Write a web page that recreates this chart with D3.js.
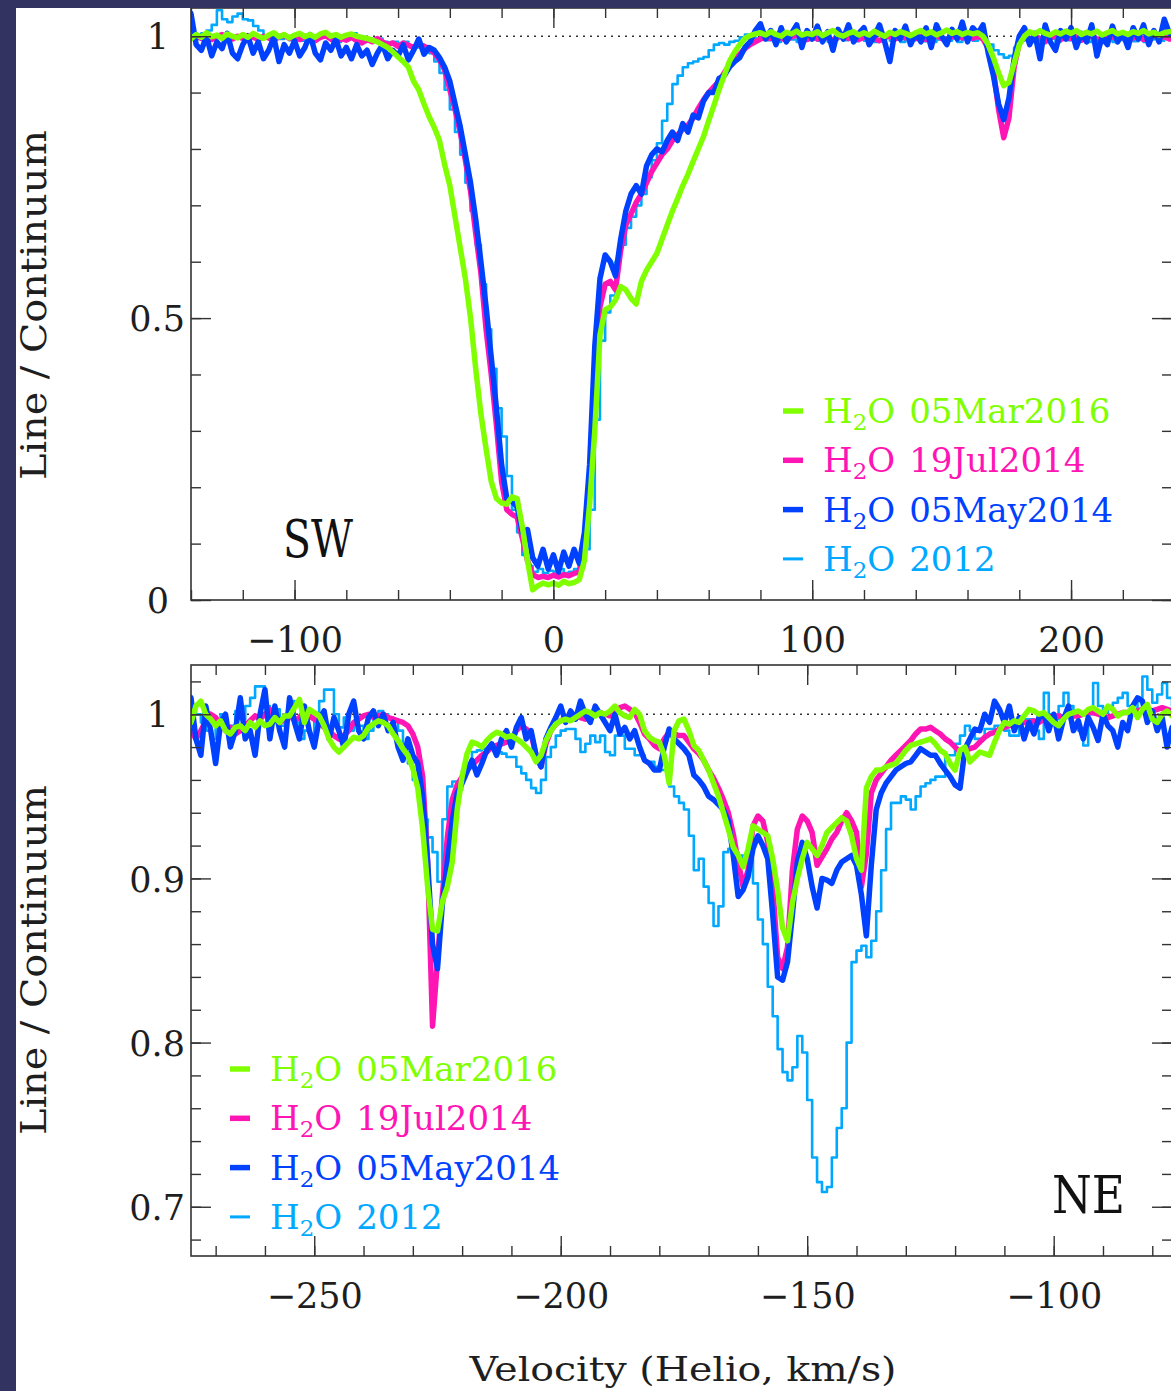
<!DOCTYPE html>
<html>
<head>
<meta charset="utf-8">
<script src="https://cdn.jsdelivr.net/npm/d3@7"></script>
<style>body{margin:0;background:#fff}svg{display:block}</style>
</head>
<body>
<script>

// velocity grids (km/s, heliocentric)
var velSW = [
 -140,-138,-136,-134,-132,-130,-128,-126,-124,-122,
 -120,-118,-116,-114,-112,-110,-108,-106,-104,-102,
 -100,-98,-96,-94,-92,-90,-88,-86,-84,-82,
 -80,-78,-76,-74,-72,-70,-68,-66,-64,-62,
 -60,-58,-56,-54,-52,-50,-48,-46,-44,-42,
 -40,-38,-36,-34,-32,-30,-28,-26,-24,-22,
 -20,-18,-16,-14,-12,-10,-8,-6,-4,-2,
 0,2,4,6,8,10,12,14,16,18,
 20,22,24,26,28,30,32,34,36,38,
 40,42,44,46,48,50,52,54,56,58,
 60,62,64,66,68,70,72,74,76,78,
 80,82,84,86,88,90,92,94,96,98,
 100,102,104,106,108,110,112,114,116,118,
 120,122,124,126,128,130,132,134,136,138,
 140,142,144,146,148,150,152,154,156,158,
 160,162,164,166,168,170,172,174,176,178,
 180,182,184,186,188,190,192,194,196,198,
 200,202,204,206,208,210,212,214,216,218,
 220,222,224,226,228,230,232,234,236,238];

var velNE = [
 -275,-274,-273,-272,-271,-270,-269,-268,-267,-266,
 -265,-264,-263,-262,-261,-260,-259,-258,-257,-256,
 -255,-254,-253,-252,-251,-250,-249,-248,-247,-246,
 -245,-244,-243,-242,-241,-240,-239,-238,-237,-236,
 -235,-234,-233,-232,-231,-230,-229,-228,-227,-226,
 -225,-224,-223,-222,-221,-220,-219,-218,-217,-216,
 -215,-214,-213,-212,-211,-210,-209,-208,-207,-206,
 -205,-204,-203,-202,-201,-200,-199,-198,-197,-196,
 -195,-194,-193,-192,-191,-190,-189,-188,-187,-186,
 -185,-184,-183,-182,-181,-180,-179,-178,-177,-176,
 -175,-174,-173,-172,-171,-170,-169,-168,-167,-166,
 -165,-164,-163,-162,-161,-160,-159,-158,-157,-156,
 -155,-154,-153,-152,-151,-150,-149,-148,-147,-146,
 -145,-144,-143,-142,-141,-140,-139,-138,-137,-136,
 -135,-134,-133,-132,-131,-130,-129,-128,-127,-126,
 -125,-124,-123,-122,-121,-120,-119,-118,-117,-116,
 -115,-114,-113,-112,-111,-110,-109,-108,-107,-106,
 -105,-104,-103,-102,-101,-100,-99,-98,-97,-96,
 -95,-94,-93,-92,-91,-90,-89,-88,-87,-86,
 -85,-84,-83,-82,-81,-80,-79,-78,-77,-76];

// SW spectra, line / continuum
var mar2016SW = [
 0.995,1.003,0.998,1.006,0.999,1.002,0.996,1.004,1.000,0.997,
 1.003,0.998,1.005,1.000,0.996,1.002,1.006,0.999,1.003,0.997,
 1.002,1.005,0.999,1.003,0.998,1.004,1.007,1.000,1.003,0.998,
 1.002,1.004,1.000,0.998,0.996,0.993,0.990,0.985,0.980,0.972,
 0.963,0.955,0.945,0.920,0.905,0.880,0.857,0.838,0.815,0.772,
 0.735,0.680,0.625,0.570,0.500,0.410,0.330,0.268,0.210,0.180,
 0.172,0.170,0.183,0.180,0.130,0.070,0.018,0.025,0.030,0.027,
 0.030,0.026,0.033,0.029,0.031,0.036,0.070,0.170,0.300,0.470,
 0.515,0.520,0.532,0.556,0.550,0.535,0.525,0.565,0.585,0.600,
 0.615,0.640,0.665,0.690,0.712,0.735,0.755,0.778,0.800,0.822,
 0.850,0.877,0.905,0.930,0.955,0.972,0.985,0.996,1.001,1.004,
 1.006,1.002,1.008,1.003,1.000,1.007,1.004,1.009,1.002,1.005,
 1.003,1.008,1.001,1.006,1.010,1.003,1.000,1.005,1.008,1.002,
 1.006,1.002,1.009,1.004,1.000,1.007,1.003,1.008,1.005,1.001,
 1.006,1.010,1.004,1.008,1.002,1.006,1.011,1.005,1.008,1.003,
 1.007,1.004,1.006,1.000,0.985,0.962,0.935,0.912,0.918,0.952,
 0.985,1.000,1.008,1.004,1.010,1.005,1.002,1.008,1.004,1.009,
 1.005,1.010,1.003,1.007,1.004,1.009,1.002,1.006,1.010,1.004,
 1.007,1.003,1.008,1.005,1.010,1.004,1.007,1.002,1.006,1.008];

var jul2014SW = [
 0.998,1.002,0.996,1.000,0.994,0.999,1.003,0.997,0.995,1.000,
 0.996,1.001,0.998,0.994,1.000,0.997,0.993,0.999,1.002,0.996,
 0.998,0.994,1.000,0.996,0.992,0.998,1.001,0.995,0.990,0.996,
 0.993,0.998,0.992,0.988,0.994,0.990,0.996,0.990,0.985,0.988,
 0.982,0.988,0.984,0.980,0.986,0.982,0.978,0.970,0.958,0.940,
 0.905,0.870,0.830,0.780,0.725,0.650,0.580,0.480,0.400,0.310,
 0.210,0.160,0.152,0.147,0.110,0.070,0.045,0.040,0.042,0.040,
 0.044,0.041,0.045,0.043,0.047,0.050,0.100,0.200,0.380,0.520,
 0.560,0.565,0.550,0.620,0.665,0.685,0.705,0.720,0.740,0.760,
 0.775,0.790,0.800,0.815,0.825,0.835,0.842,0.855,0.872,0.887,
 0.900,0.910,0.920,0.935,0.948,0.960,0.968,0.978,0.985,0.990,
 0.995,0.998,0.996,1.000,0.997,0.993,0.999,1.002,0.996,0.994,
 0.999,0.995,1.001,0.997,0.993,0.998,1.002,0.996,0.999,0.994,
 0.998,1.001,0.996,0.992,0.998,1.000,0.995,0.999,0.997,1.002,
 0.996,0.999,0.994,0.998,1.001,0.996,0.993,0.999,1.002,0.997,
 0.999,0.996,1.000,0.995,0.978,0.940,0.870,0.820,0.855,0.945,
 0.988,0.998,0.994,0.999,0.995,0.990,0.997,1.000,0.994,0.998,
 0.996,1.000,0.993,0.997,1.001,0.995,0.990,0.996,0.999,0.994,
 0.998,0.993,0.997,1.000,0.994,0.998,1.002,0.996,0.999,0.995];

var may2014SW = [
 1.040,0.985,0.975,1.000,0.965,0.990,0.978,1.005,0.970,0.960,
 0.985,1.000,0.970,0.990,0.960,0.975,0.998,0.955,0.985,0.970,
 0.992,0.965,0.980,1.003,0.970,0.958,0.988,0.975,0.995,0.965,
 0.980,0.960,0.985,0.965,0.975,0.950,0.970,0.985,0.960,0.975,
 0.965,0.985,0.958,0.975,0.995,0.968,0.980,0.975,0.962,0.945,
 0.920,0.880,0.840,0.790,0.740,0.675,0.600,0.520,0.430,0.340,
 0.240,0.180,0.175,0.165,0.120,0.125,0.075,0.060,0.090,0.055,
 0.080,0.050,0.085,0.060,0.090,0.065,0.120,0.240,0.450,0.570,
 0.612,0.600,0.575,0.640,0.690,0.720,0.735,0.720,0.770,0.790,
 0.800,0.795,0.815,0.830,0.815,0.845,0.830,0.860,0.855,0.885,
 0.900,0.900,0.925,0.930,0.945,0.955,0.962,0.980,0.990,1.010,
 1.022,0.995,1.010,0.985,1.015,0.990,1.005,1.020,0.980,1.010,
 0.995,1.018,0.990,1.008,0.975,1.012,0.995,1.020,0.990,1.005,
 1.015,0.985,1.000,1.020,0.990,0.955,1.010,0.995,1.018,0.985,
 1.005,0.990,1.015,0.980,1.020,1.000,0.985,1.012,0.995,1.025,
 0.990,1.015,1.005,1.020,0.970,0.930,0.880,0.852,0.890,0.960,
 1.000,1.015,0.985,1.005,0.960,1.020,0.990,0.975,1.010,0.995,
 1.015,0.980,1.005,0.990,1.020,0.965,1.000,0.985,1.018,0.990,
 1.005,0.980,1.015,0.995,1.020,0.985,1.010,0.990,1.030,1.005];

var y2012SW = [
 1.000,0.995,1.005,1.010,1.020,1.046,1.030,1.025,1.035,1.040,
 1.030,1.028,1.018,1.010,1.000,0.996,1.000,0.995,0.998,0.993,
 0.997,0.992,0.996,0.990,0.995,0.998,1.000,0.994,0.990,0.996,
 1.000,1.005,0.995,0.990,0.996,0.992,0.996,0.990,0.985,0.990,
 0.985,0.990,0.984,0.980,0.985,0.978,0.970,0.955,0.935,0.905,
 0.870,0.830,0.790,0.740,0.690,0.630,0.560,0.480,0.410,0.340,
 0.290,0.220,0.160,0.120,0.080,0.060,0.050,0.055,0.048,0.052,
 0.050,0.055,0.048,0.050,0.055,0.060,0.090,0.160,0.320,0.460,
 0.510,0.540,0.600,0.630,0.660,0.680,0.700,0.720,0.750,0.780,
 0.810,0.850,0.880,0.915,0.930,0.945,0.952,0.955,0.960,0.963,
 0.975,0.985,0.988,0.985,0.990,0.992,0.998,1.003,1.000,0.996,
 0.998,0.993,0.997,0.990,0.995,0.999,0.994,0.990,0.996,0.993,
 0.997,0.992,0.996,0.990,0.994,0.998,0.993,0.997,0.991,0.995,
 0.992,0.996,0.990,0.994,0.998,0.992,0.995,0.990,0.996,0.993,
 0.997,0.991,0.995,0.990,0.994,0.998,0.992,0.996,0.990,0.994,
 0.997,0.992,0.995,0.990,0.985,0.975,0.968,0.962,0.965,0.980,
 0.992,0.996,0.990,0.994,0.998,0.992,0.996,0.990,0.995,0.993,
 0.997,0.991,0.995,0.990,0.994,0.997,0.992,0.996,0.990,0.995,
 0.993,0.997,0.991,0.995,0.990,0.994,0.998,0.992,0.996,0.993];

// NE spectra
var mar2016NE = [
 0.995,1.005,1.008,1.000,0.997,0.993,0.996,0.990,0.988,0.992,
 0.993,0.990,0.995,0.992,0.996,0.993,0.994,0.998,0.995,0.999,
 0.999,1.004,1.009,0.995,1.003,1.001,0.999,0.993,0.985,0.980,
 0.977,0.980,0.983,0.986,0.985,0.987,0.992,0.994,0.996,0.995,
 0.993,0.988,0.984,0.979,0.975,0.967,0.955,0.930,0.895,0.869,
 0.868,0.886,0.895,0.910,0.942,0.962,0.976,0.983,0.982,0.980,
 0.984,0.987,0.989,0.988,0.986,0.987,0.985,0.983,0.980,0.977,
 0.971,0.975,0.984,0.990,0.994,0.996,0.997,0.996,0.998,1.000,
 1.002,1.001,0.999,1.001,1.000,1.002,1.005,1.001,0.999,0.998,
 1.003,1.000,0.990,0.986,0.984,0.983,0.975,0.958,0.990,0.996,
 0.997,0.990,0.981,0.978,0.972,0.966,0.958,0.950,0.940,0.930,
 0.919,0.914,0.907,0.918,0.932,0.930,0.928,0.926,0.912,0.893,
 0.870,0.862,0.885,0.900,0.912,0.922,0.918,0.914,0.920,0.928,
 0.931,0.934,0.937,0.935,0.926,0.912,0.905,0.955,0.962,0.966,
 0.966,0.968,0.969,0.970,0.974,0.978,0.981,0.982,0.983,0.984,
 0.985,0.982,0.978,0.976,0.970,0.966,0.978,0.980,0.971,0.974,
 0.977,0.976,0.975,0.983,0.990,0.995,0.994,0.996,0.995,0.999,
 1.003,1.002,1.000,1.001,0.998,0.995,0.993,0.997,1.000,1.001,
 1.002,1.000,1.003,1.004,1.002,1.000,1.005,1.003,0.999,1.001,
 1.001,1.004,0.998,1.003,1.006,0.997,0.995,1.000,1.002,0.999];

var jul2014NE = [
 0.990,0.985,0.990,0.996,1.000,0.998,0.994,0.990,0.992,0.988,
 0.990,0.993,0.996,0.999,0.997,1.000,1.003,0.998,0.995,0.997,
 1.000,0.996,0.998,1.002,0.999,0.997,0.995,0.992,0.990,0.987,
 0.985,0.987,0.990,0.995,0.997,0.999,1.000,0.998,0.999,1.000,
 0.998,0.997,0.996,0.995,0.993,0.988,0.980,0.962,0.910,0.810,
 0.850,0.890,0.925,0.948,0.957,0.962,0.966,0.969,0.972,0.975,
 0.977,0.980,0.981,0.982,0.983,0.985,0.990,0.993,0.991,0.988,
 0.975,0.968,0.982,0.990,0.994,0.996,0.998,0.999,0.999,0.998,
 0.997,0.999,1.000,1.001,1.000,0.999,1.002,1.004,1.005,1.003,
 1.001,0.995,0.988,0.985,0.981,0.979,0.985,0.989,0.988,0.987,
 0.987,0.983,0.979,0.976,0.972,0.966,0.961,0.955,0.948,0.940,
 0.927,0.910,0.895,0.905,0.932,0.938,0.935,0.922,0.895,0.852,
 0.845,0.858,0.905,0.930,0.938,0.935,0.928,0.908,0.913,0.918,
 0.924,0.928,0.935,0.940,0.935,0.928,0.895,0.915,0.952,0.960,
 0.964,0.968,0.972,0.975,0.978,0.981,0.984,0.988,0.991,0.991,
 0.992,0.990,0.988,0.985,0.983,0.980,0.977,0.978,0.979,0.980,
 0.983,0.986,0.988,0.989,0.991,0.992,0.993,0.994,0.995,0.995,
 0.995,0.996,0.995,0.997,0.998,0.999,0.999,0.998,1.000,0.999,
 0.999,1.000,1.001,1.001,1.000,0.999,0.998,0.999,1.000,1.001,
 1.001,1.002,1.002,1.003,1.003,1.002,1.003,1.004,1.003,1.002];

var may2014NE = [
 1.010,0.985,0.975,1.005,0.990,0.970,0.995,1.000,0.980,0.990,
 1.010,0.985,0.990,0.975,1.000,1.015,0.985,1.005,0.990,0.980,
 1.010,0.995,0.985,1.005,0.990,0.980,0.997,1.002,0.985,0.998,
 0.990,0.980,1.000,1.008,0.990,0.985,0.998,1.002,0.993,1.000,
 0.990,0.995,0.980,0.972,0.985,0.975,0.970,0.950,0.910,0.860,
 0.845,0.885,0.910,0.935,0.952,0.958,0.965,0.972,0.963,0.970,
 0.978,0.982,0.975,0.985,0.990,0.980,0.992,0.998,0.985,0.990,
 0.975,0.968,0.985,0.992,0.998,1.005,0.995,1.002,0.997,1.008,
 1.000,0.995,1.005,1.000,0.995,0.990,1.000,0.988,0.992,0.985,
 0.990,0.980,0.972,0.970,0.966,0.966,0.980,0.991,0.985,0.982,
 0.979,0.975,0.963,0.960,0.956,0.950,0.948,0.945,0.942,0.935,
 0.914,0.889,0.893,0.901,0.918,0.926,0.920,0.912,0.878,0.840,
 0.838,0.849,0.878,0.910,0.922,0.912,0.895,0.882,0.900,0.899,
 0.897,0.905,0.910,0.912,0.914,0.908,0.890,0.865,0.908,0.942,
 0.952,0.958,0.962,0.966,0.968,0.970,0.971,0.975,0.979,0.977,
 0.975,0.975,0.970,0.966,0.962,0.957,0.955,0.979,0.985,0.991,
 0.990,1.000,0.995,1.008,1.003,0.995,1.005,0.990,0.998,0.985,
 0.995,0.988,0.998,1.000,0.990,1.000,0.985,0.997,1.005,0.990,
 0.996,0.985,0.998,0.992,0.984,1.000,0.993,0.990,0.980,0.995,
 0.990,1.005,1.010,1.008,0.995,1.002,0.990,0.998,0.980,0.992];

var y2012NE = [
 1.005,1.000,0.995,0.990,0.985,0.995,1.000,0.990,0.993,1.002,
 0.997,1.005,1.010,1.017,1.017,1.005,0.995,1.003,0.993,1.000,
 1.008,0.995,0.985,0.990,0.988,1.000,1.008,1.015,1.015,1.000,
 0.992,0.998,0.990,0.995,0.993,0.985,0.990,0.997,1.002,1.000,
 0.998,0.997,0.990,0.977,0.970,0.960,0.952,0.936,0.925,0.916,
 0.898,0.936,0.956,0.959,0.954,0.966,0.970,0.977,0.978,0.979,
 0.979,0.980,0.977,0.976,0.974,0.974,0.968,0.964,0.960,0.955,
 0.952,0.960,0.974,0.980,0.987,0.990,0.991,0.991,0.985,0.977,
 0.982,0.987,0.983,0.987,0.977,0.975,0.987,0.987,0.979,0.979,
 0.975,0.975,0.971,0.971,0.968,0.966,0.966,0.956,0.950,0.946,
 0.942,0.926,0.905,0.912,0.895,0.885,0.871,0.883,0.916,0.918,
 0.916,0.914,0.912,0.912,0.897,0.875,0.860,0.834,0.816,0.796,
 0.782,0.777,0.785,0.804,0.794,0.765,0.730,0.715,0.709,0.712,
 0.730,0.748,0.760,0.800,0.849,0.856,0.859,0.852,0.862,0.880,
 0.905,0.930,0.946,0.946,0.950,0.948,0.942,0.950,0.956,0.958,
 0.960,0.962,0.962,0.975,0.975,0.982,0.987,0.993,0.990,0.985,
 0.985,0.991,0.991,0.993,0.993,0.990,0.987,0.987,0.997,0.997,
 0.997,0.990,0.985,1.013,1.000,0.997,1.005,1.013,1.005,0.999,
 0.990,0.981,1.000,1.019,1.005,1.001,1.005,1.007,1.010,1.013,
 1.005,1.001,1.010,1.023,1.015,1.007,1.012,1.019,1.010,1.005];

var epochs = ["05Mar2016", "19Jul2014", "05May2014", "2012"];
var epochColors = ["#80ff00", "#ff14b4", "#0041ff", "#00a8ff"];

var xTicksSW = [-100, 0, 100, 200];
var yTicksSW = [0, 0.5, 1];
var xTicksNE = [-250, -200, -150, -100];
var yTicksNE = [0.7, 0.8, 0.9, 1];

var W = 1171, H = 1391;
var FONT = "'DejaVu Serif', serif";

var svg = d3.select("body").append("svg")
            .attr("width", W)
            .attr("height", H);

svg.append("rect").attr("width", W).attr("height", H).attr("fill", "#fff");

function fmtX(d) { return d < 0 ? "\u2212" + Math.abs(d) : String(d); }

function styleAxis(sel) {
    sel.attr("font-family", null).attr("font-size", null);
    sel.select(".domain").remove();
    sel.selectAll("line").attr("stroke", "#333").attr("stroke-width", 1.4);
    sel.selectAll("text")
       .attr("font-family", FONT)
       .attr("font-size", 35)
       .attr("fill", "#1e1e1e");
}

function drawPanel(p) {
    var x = d3.scaleLinear().domain(p.xDomain).range([191, 1172]);
    var y = d3.scaleLinear().domain(p.yDomain).range([p.bottom, p.top]);
    var g = svg.append("g");

    g.append("clipPath").attr("id", "clip" + p.name)
     .append("rect")
     .attr("x", 191).attr("y", p.top)
     .attr("width", 981).attr("height", p.bottom - p.top);

    // continuum level
    g.append("line")
     .attr("x1", 191).attr("x2", 1172)
     .attr("y1", y(1)).attr("y2", y(1))
     .attr("stroke", "#333")
     .attr("stroke-width", 1.4)
     .attr("stroke-dasharray", "2,5");

    var plot = g.append("g").attr("clip-path", "url(#clip" + p.name + ")");

    // draw order: 2012 first, then Jul2014, May2014, Mar2016 on top
    [3, 1, 2, 0].forEach(function (k) {
        var vals = p.series[k];
        var pts = p.vel.map(function (v, i) { return [v, vals[i]]; });
        var thin = (k === 3);
        var line = d3.line()
                     .defined(function (d) { return d[1] != null; })
                     .x(function (d) { return x(d[0]); })
                     .y(function (d) { return y(d[1]); })
                     .curve(thin ? d3.curveStepAfter : d3.curveLinear);
        plot.append("path")
            .datum(pts)
            .attr("d", line)
            .attr("fill", "none")
            .attr("stroke", epochColors[k])
            .attr("stroke-width", thin ? 2.6 : 5.5)
            .attr("stroke-linejoin", "round")
            .attr("stroke-linecap", "round");
    });

    // ticks, all four sides, pointing inward
    g.append("g").attr("transform", "translate(0," + p.bottom + ")")
     .call(d3.axisBottom(x).tickValues(p.xMinor).tickSize(-10).tickSizeOuter(0).tickFormat(""))
     .call(styleAxis);
    g.append("g").attr("transform", "translate(0," + p.bottom + ")")
     .call(d3.axisBottom(x).tickValues(p.xMajor).tickSize(-20).tickSizeOuter(0).tickPadding(27).tickFormat(fmtX))
     .call(styleAxis);
    g.append("g").attr("transform", "translate(0," + p.top + ")")
     .call(d3.axisTop(x).tickValues(p.xMinor).tickSize(-10).tickSizeOuter(0).tickFormat(""))
     .call(styleAxis);
    g.append("g").attr("transform", "translate(0," + p.top + ")")
     .call(d3.axisTop(x).tickValues(p.xMajor).tickSize(-20).tickSizeOuter(0).tickFormat(""))
     .call(styleAxis);

    g.append("g").attr("transform", "translate(191,0)")
     .call(d3.axisLeft(y).tickValues(p.yMinor).tickSize(-10).tickSizeOuter(0).tickFormat(""))
     .call(styleAxis);
    var yl = g.append("g").attr("transform", "translate(191,0)")
     .call(d3.axisLeft(y).tickValues(p.yMajor).tickSize(-20).tickSizeOuter(0).tickPadding(6).tickFormat(String))
     .call(styleAxis);
    yl.selectAll("text")
      .attr("dy", "0.36em")
      .attr("x", function (d) { return Number.isInteger(d) ? -22 : -6; });

    g.append("g").attr("transform", "translate(1172,0)")
     .call(d3.axisRight(y).tickValues(p.yMinor).tickSize(-10).tickSizeOuter(0).tickFormat(""))
     .call(styleAxis);
    g.append("g").attr("transform", "translate(1172,0)")
     .call(d3.axisRight(y).tickValues(p.yMajor).tickSize(-20).tickSizeOuter(0).tickFormat(""))
     .call(styleAxis);

    g.append("rect")
     .attr("x", 191).attr("y", p.top)
     .attr("width", 981).attr("height", p.bottom - p.top)
     .attr("fill", "none")
     .attr("stroke", "#333")
     .attr("stroke-width", 1.6);

    // y title
    g.append("text")
     .attr("transform", "translate(46," + p.labelY + ") rotate(-90)")
     .attr("text-anchor", "middle")
     .attr("font-family", FONT)
     .attr("font-size", 35)
     .attr("fill", "#1e1e1e")
     .attr("textLength", 350)
     .attr("lengthAdjust", "spacingAndGlyphs")
     .text("Line / Continuum");

    // legend
    epochs.forEach(function (ep, i) {
        var yy = p.legendY + i * 49.3;
        var thin = (i === 3);
        g.append("line")
         .attr("x1", p.legendX).attr("x2", p.legendX + 20)
         .attr("y1", yy).attr("y2", yy)
         .attr("stroke", epochColors[i])
         .attr("stroke-width", thin ? 3 : 5.5);
        var t = g.append("text")
                 .attr("x", p.legendX + 40)
                 .attr("y", yy + 12)
                 .attr("font-family", FONT)
                 .attr("font-size", 34)
                 .attr("fill", epochColors[i]);
        t.append("tspan").text("H");
        t.append("tspan").attr("dy", 7).attr("font-size", 23).text("2");
        t.append("tspan").attr("dy", -7).text("O");
        t.append("tspan").attr("dx", 14).text(ep);
    });

    g.append("text")
     .attr("x", p.tagX).attr("y", p.tagY)
     .attr("font-family", FONT)
     .attr("font-size", 53)
     .attr("fill", "#111")
     .attr("textLength", p.tagLen)
     .attr("lengthAdjust", "spacingAndGlyphs")
     .text(p.name);
}

drawPanel({
    name: "SW",
    vel: velSW,
    series: [mar2016SW, jul2014SW, may2014SW, y2012SW],
    xDomain: [-140, 239], yDomain: [0, 1.05],
    top: 8, bottom: 600,
    xMinor: d3.range(-140, 240, 20), xMajor: xTicksSW,
    yMinor: d3.range(0, 1.01, 0.1), yMajor: yTicksSW,
    legendX: 783, legendY: 411,
    tagX: 283, tagY: 557, tagLen: 70,
    labelY: 305
});

drawPanel({
    name: "NE",
    vel: velNE,
    series: [mar2016NE, jul2014NE, may2014NE, y2012NE],
    xDomain: [-275, -76], yDomain: [0.67, 1.03],
    top: 665, bottom: 1256,
    xMinor: d3.range(-270, -75, 10), xMajor: xTicksNE,
    yMinor: d3.range(0.68, 1.025, 0.02), yMajor: yTicksNE,
    legendX: 230, legendY: 1069,
    tagX: 1052, tagY: 1213, tagLen: 73,
    labelY: 960
});

svg.append("text")
   .attr("x", 683).attr("y", 1381)
   .attr("text-anchor", "middle")
   .attr("font-family", FONT)
   .attr("font-size", 34)
   .attr("fill", "#1e1e1e")
   .attr("textLength", 427)
   .attr("lengthAdjust", "spacingAndGlyphs")
   .text("Velocity (Helio, km/s)");

// dark frame of the original slide
svg.append("rect").attr("x", 0).attr("y", 0).attr("width", 16).attr("height", H).attr("fill", "#333361");
svg.append("rect").attr("x", 0).attr("y", 0).attr("width", W).attr("height", 8).attr("fill", "#333361");

</script>
</body>
</html>
